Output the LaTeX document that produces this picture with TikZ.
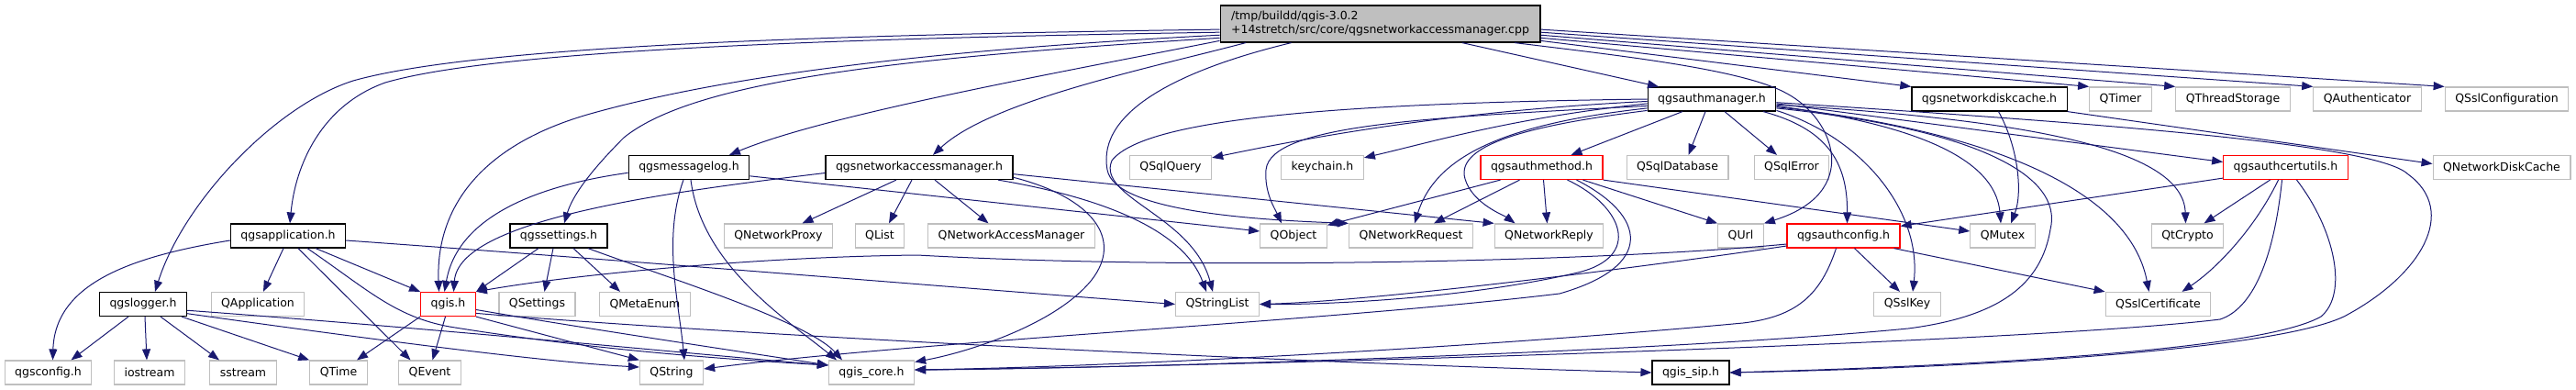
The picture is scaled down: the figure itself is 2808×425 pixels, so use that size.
\documentclass[tikz,border=0pt]{standalone}
\usepackage{fontspec}
\setmainfont{DejaVu Sans}
\usetikzlibrary{arrows.meta}
\definecolor{edgeblue}{HTML}{191970}
\definecolor{extgray}{HTML}{BFBFBF}
\tikzset{
  box/.style={rectangle, minimum height=26pt, inner xsep=11pt, inner ysep=0pt,
    line width=1.2pt, fill=white, font=\fontsize{12.5}{15}\selectfont},
  hdr/.style={box, draw=black},
  hdrred/.style={box, draw=red},
  ext/.style={box, draw=extgray},
  rootfile/.style={box, draw=black, fill=extgray, minimum height=40pt, inner xsep=12pt, align=left},
  inc/.style={draw=edgeblue, line width=1pt, -{Triangle[length=12pt,width=9pt]}},
}
\begin{document}
\begin{tikzpicture}[x=1pt,y=-1pt]
\useasboundingbox (0,0) rectangle (2808,425);

% the file itself
\node[rootfile] (R) at (1504.5,26) {/tmp/buildd/qgis-3.0.2\\+14stretch/src/core/qgsnetworkaccessmanager.cpp};

% row 1
\node[hdr] (authmgr) at (1866,108) {qgsauthmanager.h};
\node[hdr] (diskcache) at (2168.5,108) {qgsnetworkdiskcache.h};
\node[ext] (qtimer) at (2311.5,108) {QTimer};
\node[ext] (qthreadstorage) at (2434,108) {QThreadStorage};
\node[ext] (qauth) at (2580.5,108) {QAuthenticator};
\node[ext] (qsslconf) at (2732.5,108) {QSslConfiguration};

% row 2
\node[hdr] (msglog) at (751,182.5) {qgsmessagelog.h};
\node[hdr] (nam) at (1002,182.5) {qgsnetworkaccessmanager.h};
\node[ext] (qsqlquery) at (1276,182.5) {QSqlQuery};
\node[ext] (keychain) at (1441.5,182.5) {keychain.h};
\node[hdrred] (authmethod) at (1680.5,182.5) {qgsauthmethod.h};
\node[ext] (qsqldb) at (1828.5,182.5) {QSqlDatabase};
\node[ext] (qsqlerror) at (1953,182.5) {QSqlError};
\node[hdrred] (certutils) at (2491.5,182.5) {qgsauthcertutils.h};
\node[ext] (qnetdiskcache) at (2727,182.5) {QNetworkDiskCache};

% row 3
\node[hdr] (app) at (314,257) {qgsapplication.h};
\node[hdr] (settings) at (609,257) {qgssettings.h};
\node[ext] (qnetproxy) at (848.5,257) {QNetworkProxy};
\node[ext] (qlist) at (959,257) {QList};
\node[ext] (qnam) at (1102.5,257) {QNetworkAccessManager};
\node[ext] (qobject) at (1410,257) {QObject};
\node[ext] (qnetreq) at (1538,257) {QNetworkRequest};
\node[ext] (qnetreply) at (1688.5,257) {QNetworkReply};
\node[ext] (qurl) at (1897.5,257) {QUrl};
\node[hdrred] (authconfig) at (2009.5,257) {qgsauthconfig.h};
\node[ext] (qmutex) at (2183,257) {QMutex};
\node[ext] (qtcrypto) at (2384.5,257) {QtCrypto};

% row 4
\node[hdr] (logger) at (156,331.5) {qgslogger.h};
\node[ext] (qapplication) at (281,331.5) {QApplication};
\node[hdrred] (qgis) at (488.5,331.5) {qgis.h};
\node[ext] (qsettings) at (585.5,331.5) {QSettings};
\node[ext] (qmetaenum) at (703,331.5) {QMetaEnum};
\node[ext] (qstringlist) at (1327,331.5) {QStringList};
\node[ext] (qsslkey) at (2079,331.5) {QSslKey};
\node[ext] (qsslcert) at (2352.5,331.5) {QSslCertificate};

% row 5
\node[ext] (qgsconfig) at (52.5,406) {qgsconfig.h};
\node[ext] (iostream) at (163,406) {iostream};
\node[ext] (sstream) at (265,406) {sstream};
\node[ext] (qtime) at (369,406) {QTime};
\node[ext] (qevent) at (468.5,406) {QEvent};
\node[ext] (qstring) at (732,406) {QString};
\node[ext] (qgiscore) at (950,406) {qgis\_core.h};
\node[hdr] (qgissip) at (1843,406) {qgis\_sip.h};

% includes of the .cpp
\draw[inc] (R.182) .. controls (900,38) and (520,50) .. (385,88) .. controls (300,115) and (200,220) .. ([xshift=13pt]logger.north);
\draw[inc] (R.183) .. controls (900,42) and (540,55) .. (420,90) .. controls (350,115) and (322,180) .. ([xshift=2pt]app.north);
\draw[inc] (R.184) .. controls (1000,55) and (780,85) .. (640,125) .. controls (520,160) and (475,230) .. ([xshift=-10pt]qgis.north);
\draw[inc] (R.185) .. controls (1000,62) and (760,85) .. (680,150) .. controls (650,180) and (625,210) .. ([xshift=6pt]settings.north);
\draw[inc] (R.186) .. controls (1150,80) and (900,125) .. ([xshift=44pt]msglog.north);
\draw[inc] (R.188) .. controls (1250,75) and (1080,110) .. ([xshift=15pt]nam.north);
\draw[inc] (R.192) .. controls (1290,75) and (1195,120) .. (1207,185) .. controls (1215,232) and (1380,240) .. (qnetreq.north west);
\draw[inc] (R.347) -- ([xshift=-58pt]authmgr.north);
\draw[inc] (R.354) -- (diskcache.north west);
\draw[inc] (R.355) -- (qtimer.north west);
\draw[inc] (R.356) -- (qthreadstorage.north west);
\draw[inc] (R.357) -- (qauth.north west);
\draw[inc] (R.358) -- (qsslconf.north west);
\draw[inc] (R.352) .. controls (1760,60) and (1900,75) .. (1948,102) .. controls (2000,130) and (2030,210) .. (qurl.north east);

% qgsnetworkaccessmanager.h
\draw[inc] ([xshift=-25pt]nam.south) -- ([xshift=26pt]qnetproxy.north);
\draw[inc] ([xshift=-8pt]nam.south) -- ([xshift=10pt]qlist.north);
\draw[inc] ([xshift=17pt]nam.south) -- ([xshift=-25pt]qnam.north);
\draw[inc] ([yshift=-6pt]nam.west) .. controls (720,210) and (500,240) .. ([xshift=6pt]qgis.north);
\draw[inc] (nam.-4) -- (qnetreply.north west);
\draw[inc] (nam.-9) .. controls (1200,215) and (1290,250) .. ([xshift=-12pt]qstringlist.north);
\draw[inc] (nam.-6) .. controls (1190,215) and (1225,260) .. (1190,305) .. controls (1150,355) and (1050,385) .. ([yshift=-2pt]qgiscore.north east);

% qgsmessagelog.h
\draw[inc] (msglog.-8) -- ([yshift=5pt]qobject.west);
\draw[inc] (msglog.185) .. controls (600,200) and (500,230) .. ([xshift=-4pt]qgis.north);
\draw[inc] ([xshift=-6pt]msglog.south) .. controls (722,260) and (740,330) .. ([xshift=14pt]qstring.north);
\draw[inc] ([xshift=2pt]msglog.south) .. controls (765,290) and (860,350) .. ([xshift=-38pt]qgiscore.north);

% qgsapplication.h
\draw[inc] ([yshift=-5pt]app.west) .. controls (140,280) and (60,310) .. ([xshift=5pt]qgsconfig.north);
\draw[inc] ([xshift=-5pt]app.south) -- ([xshift=6pt]qapplication.north);
\draw[inc] ([xshift=30pt]app.south) -- (qgis.north west);
\draw[inc] ([xshift=11pt]app.south) -- ([xshift=-21pt]qevent.north);
\draw[inc] ([xshift=21pt]app.south) .. controls (400,315) and (430,345) .. (490,356) .. controls (650,382) and (800,392) .. ([yshift=8pt]qgiscore.west);
\draw[inc] ([yshift=-5pt]app.east) .. controls (700,285) and (1100,318) .. (qstringlist.west);

% qgssettings.h
\draw[inc] ([xshift=-22pt]settings.south) -- (qgis.north east);
\draw[inc] ([xshift=-6pt]settings.south) -- ([xshift=8pt]qsettings.north);
\draw[inc] ([xshift=16pt]settings.south) -- ([xshift=-27pt]qmetaenum.north);
\draw[inc] ([xshift=32pt]settings.south) .. controls (720,300) and (880,350) .. ([xshift=-32pt]qgiscore.north);

% qgslogger.h
\draw[inc] ([xshift=-16pt]logger.south) -- ([xshift=25pt]qgsconfig.north);
\draw[inc] ([xshift=2pt]logger.south) -- ([xshift=-3pt]iostream.north);
\draw[inc] ([xshift=19pt]logger.south) -- ([xshift=-26pt]sstream.north);
\draw[inc] ([xshift=42pt]logger.south) -- (qtime.north west);
\draw[inc] (logger.-12) .. controls (420,372) and (600,395) .. ([yshift=6pt]qstring.west);
\draw[inc] (logger.-8) .. controls (500,360) and (800,390) .. ([yshift=8pt]qgiscore.west);

% qgis.h
\draw[inc] (qgis.south west) -- ([xshift=20pt]qtime.north);
\draw[inc] ([xshift=-3pt]qgis.south) -- ([xshift=3pt]qevent.north);
\draw[inc] (qgis.south east) -- (qstring.north west);
\draw[inc] ([yshift=-6pt]qgis.east) .. controls (650,360) and (820,385) .. ([yshift=8pt]qgiscore.west);
\draw[inc] (qgis.-18) .. controls (800,365) and (1400,395) .. (qgissip.west);

% qgsauthmanager.h
\draw[inc] (authmgr.182) .. controls (1600,120) and (1450,145) .. ([yshift=-3pt]qsqlquery.north east);
\draw[inc] (authmgr.184) .. controls (1650,128) and (1560,155) .. ([yshift=-3pt]keychain.north east);
\draw[inc] (authmgr.180) .. controls (1500,112) and (1250,125) .. (1212,175) .. controls (1195,215) and (1300,235) .. ([xshift=-5pt]qstringlist.north);
\draw[inc] (authmgr.186) .. controls (1560,128) and (1385,135) .. (1380,185) .. controls (1378,210) and (1390,228) .. ([xshift=-13pt]qobject.north);
\draw[inc] (authmgr.188) .. controls (1640,135) and (1565,170) .. ([xshift=4pt]qnetreq.north);
\draw[inc] (authmgr.190) .. controls (1680,135) and (1585,155) .. (1597,195) .. controls (1605,222) and (1640,235) .. ([xshift=-37pt]qnetreply.north);
\draw[inc] ([xshift=-32pt]authmgr.south) -- ([xshift=32pt]authmethod.north);
\draw[inc] ([xshift=-7pt]authmgr.south) -- ([xshift=12pt]qsqldb.north);
\draw[inc] ([xshift=14pt]authmgr.south) -- ([xshift=-16pt]qsqlerror.north);
\draw[inc] ([xshift=56pt]authmgr.south) .. controls (1990,140) and (2014,175) .. ([xshift=4pt]authconfig.north);
\draw[inc] (authmgr.-10) .. controls (2030,150) and (2095,230) .. ([xshift=6pt]qsslkey.north);
\draw[inc] (authmgr.-6) .. controls (2080,135) and (2175,170) .. ([xshift=-2pt]qmutex.north);
\draw[inc] (authmgr.-7) .. controls (2150,140) and (2320,200) .. ([xshift=-10pt]qsslcert.north);
\draw[inc] (authmgr.-5) .. controls (2200,130) and (2380,160) .. ([xshift=-2pt]qtcrypto.north);
\draw[inc] (authmgr.-4) -- ([yshift=6pt]certutils.west);
\draw[inc] (authmgr.-3) .. controls (2250,132) and (2590,155) .. (2625,190) .. controls (2680,230) and (2640,300) .. (2555,345) .. controls (2470,385) and (2100,402) .. (qgissip.east);
\draw[inc] (authmgr.-8) .. controls (2150,140) and (2250,190) .. (2235,250) .. controls (2225,310) and (2180,345) .. (2080,358) .. controls (1800,385) and (1200,402) .. ([yshift=3pt]qgiscore.east);

% qgsauthmethod.h
\draw[inc] ([xshift=-45pt]authmethod.south) -- ([yshift=-2pt]qobject.north east);
\draw[inc] ([xshift=-24pt]authmethod.south) -- ([xshift=25pt]qnetreq.north);
\draw[inc] ([xshift=2pt]authmethod.south) -- ([xshift=-2pt]qnetreply.north);
\draw[inc] ([xshift=45pt]authmethod.south) -- (qurl.north west);
\draw[inc] (authmethod.south east) -- ([yshift=5pt]qmutex.west);
\draw[inc] ([xshift=28pt]authmethod.south) .. controls (1770,225) and (1790,280) .. (1720,297) .. controls (1600,325) and (1450,332) .. (qstringlist.east);
\draw[inc] ([xshift=38pt]authmethod.south) .. controls (1795,235) and (1805,290) .. (1700,320) .. controls (1450,350) and (1000,372) .. ([yshift=4pt]qstring.east);

% qgsauthconfig.h
\draw[inc] ([yshift=-9pt]authconfig.west) .. controls (1750,285) and (1300,295) .. (1000,278) .. controls (820,280) and (620,300) .. (qgis.north east);
\draw[inc] ([yshift=-11pt]authconfig.west) .. controls (1800,290) and (1500,328) .. (qstringlist.east);
\draw[inc] ([xshift=12pt]authconfig.south) -- ([xshift=-8pt]qsslkey.north);
\draw[inc] ([xshift=55pt]authconfig.south) -- (qsslcert.north west);
\draw[inc] ([xshift=-8pt]authconfig.south) .. controls (1985,320) and (1960,345) .. (1900,352) .. controls (1600,380) and (1200,400) .. ([yshift=3pt]qgiscore.east);

% qgsauthcertutils.h
\draw[inc] ([yshift=2pt]certutils.south west) -- ([yshift=-3pt]authconfig.north east);
\draw[inc] ([xshift=-17pt]certutils.south) -- ([xshift=18pt]qtcrypto.north);
\draw[inc] ([xshift=-8pt]certutils.south) .. controls (2460,245) and (2420,290) .. ([xshift=26pt]qsslcert.north);
\draw[inc] ([xshift=-4pt]certutils.south) .. controls (2480,270) and (2460,335) .. (2420,348) .. controls (2200,375) and (1300,400) .. ([yshift=3pt]qgiscore.east);
\draw[inc] ([xshift=12pt]certutils.south) .. controls (2545,250) and (2560,320) .. (2530,345) .. controls (2460,385) and (2100,400) .. (qgissip.east);

% qgsnetworkdiskcache.h
\draw[inc] (diskcache.south east) -- ([yshift=4pt]qnetdiskcache.west);
\draw[inc] ([xshift=10pt]diskcache.south) .. controls (2200,160) and (2205,210) .. ([xshift=9pt]qmutex.north);
\end{tikzpicture}
\end{document}
